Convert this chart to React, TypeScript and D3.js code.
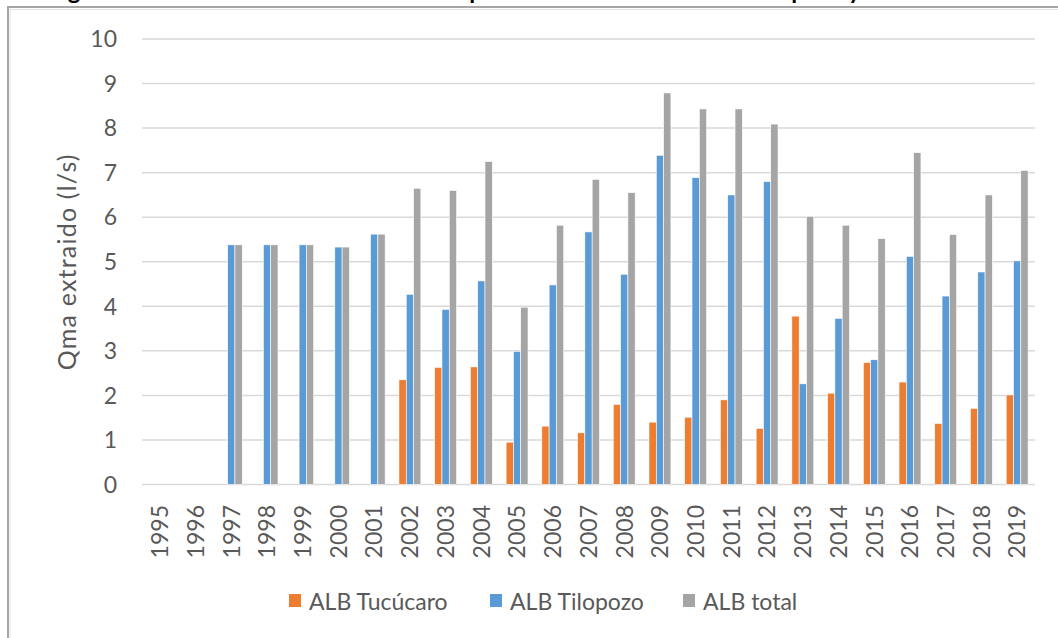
import React from 'react';
import * as d3 from 'd3';

// Annual mean extracted flow (l/s) per well field
const years: string[] = [
  '1995', '1996', '1997', '1998', '1999', '2000', '2001', '2002', '2003', '2004',
  '2005', '2006', '2007', '2008', '2009', '2010', '2011', '2012', '2013', '2014',
  '2015', '2016', '2017', '2018', '2019',
];

const tucucaro: (number | null)[] = [
  null, null, null, null, null, null, null, 2.35, 2.63, 2.64,
  0.95, 1.31, 1.16, 1.8, 1.4, 1.51, 1.9, 1.26, 3.78, 2.05,
  2.74, 2.3, 1.37, 1.71, 2.01,
];

const tilopozo: (number | null)[] = [
  null, null, 5.38, 5.38, 5.38, 5.33, 5.62, 4.27, 3.93, 4.57,
  2.99, 4.48, 5.67, 4.72, 7.39, 6.89, 6.5, 6.8, 2.26, 3.73,
  2.8, 5.12, 4.23, 4.77, 5.02,
];

const total: (number | null)[] = [
  null, null, 5.38, 5.38, 5.38, 5.33, 5.62, 6.65, 6.6, 7.25,
  3.98, 5.82, 6.85, 6.55, 8.79, 8.43, 8.43, 8.09, 6.02, 5.82,
  5.52, 7.45, 5.61, 6.5, 7.05,
];

const seriesNames: string[] = ['ALB Tucúcaro', 'ALB Tilopozo', 'ALB total'];
const seriesColors: string[] = ['#ED7D31', '#5B9BD5', '#A5A5A5'];
const yTicks: number[] = [0, 1, 2, 3, 4, 5, 6, 7, 8, 9, 10];

const titleText = 'Figura 13. Caudal medio anual extraído por ALB desde Tucúcaro – Tilopozo y total';
const yAxisTitle = 'Qma extraido (l/s)';

const W = 1058;
const H = 638;
const FONT = 'Lato, "Open Sans", sans-serif';

export default function App() {
  const series = [tucucaro, tilopozo, total];
  const plotLeft = 142;
  const plotRight = 1035;
  const plotTop = 39;
  const plotBottom = 484.5;

  const x0 = d3.scaleBand<string>().domain(years).range([plotLeft, plotRight]).padding(0);
  const x1 = d3
    .scaleBand<string>()
    .domain(seriesNames)
    .range([0, x0.bandwidth()])
    .paddingInner(0)
    .paddingOuter(0.945);
  const y = d3.scaleLinear().domain([0, 10]).range([plotBottom, plotTop]);

  const legendItems = [
    { name: seriesNames[0], sx: 289, tx: 309 },
    { name: seriesNames[1], sx: 490, tx: 510 },
    { name: seriesNames[2], sx: 683, tx: 703 },
  ];

  return (
    <svg
      width={W}
      height={H}
      style={{ position: 'absolute', left: 0, top: 0, display: 'block', background: '#fff' }}
    >
      {/* chart title, clipped at the top edge */}
      <text x={48} y={-1} fontFamily={FONT} fontWeight={700} fontSize={24} fill="#000">
        {titleText}
      </text>

      {/* chart frame */}
      <rect x={8} y={7} width={1200} height={800} fill="#fff" stroke="#A6A6A6" strokeWidth={2} />
      <rect x={10} y={9.5} width={1200} height={800} fill="none" stroke="#E3E3E3" strokeWidth={1} />

      {/* gridlines */}
      {yTicks.map((t) => (
        <line
          key={`g${t}`}
          x1={plotLeft}
          x2={plotRight}
          y1={y(t)}
          y2={y(t)}
          stroke="#D9D9D9"
          strokeWidth={1.5}
        />
      ))}

      {/* y tick labels */}
      {yTicks.map((t) => (
        <text
          key={`t${t}`}
          x={117}
          y={y(t)}
          dy="0.36em"
          textAnchor="end"
          fontFamily={FONT}
          fontSize={23}
          fill="#595959"
        >
          {t}
        </text>
      ))}

      {/* y axis title */}
      <text
        transform={`translate(67, ${(plotTop + plotBottom) / 2}) rotate(-90)`}
        dy="0.35em"
        textAnchor="middle"
        fontFamily={FONT}
        fontSize={25}
        letterSpacing={1.2}
        fill="#595959"
      >
        {yAxisTitle}
      </text>

      {/* bars */}
      {years.map((yr, i) => (
        <g key={yr} transform={`translate(${x0(yr)}, 0)`}>
          {series.map((vals, s) => {
            const v = vals[i];
            if (v == null) return null;
            return (
              <rect
                key={s}
                x={x1(seriesNames[s])}
                y={y(v)}
                width={x1.bandwidth()}
                height={y(0) - y(v)}
                fill={seriesColors[s]}
                stroke="#fff"
                strokeWidth={0.6}
              />
            );
          })}
        </g>
      ))}

      {/* category labels */}
      {years.map((yr) => (
        <text
          key={`x${yr}`}
          transform={`translate(${(x0(yr) as number) + x0.bandwidth() / 2}, 505) rotate(-90)`}
          dy="0.36em"
          textAnchor="end"
          fontFamily={FONT}
          fontSize={23}
          fill="#595959"
        >
          {yr}
        </text>
      ))}

      {/* legend */}
      {legendItems.map((it, k) => (
        <g key={it.name}>
          <rect x={it.sx} y={594} width={12} height={13} fill={seriesColors[k]} />
          <text x={it.tx} y={610} fontFamily={FONT} fontSize={23} fill="#595959">
            {it.name}
          </text>
        </g>
      ))}
    </svg>
  );
}
